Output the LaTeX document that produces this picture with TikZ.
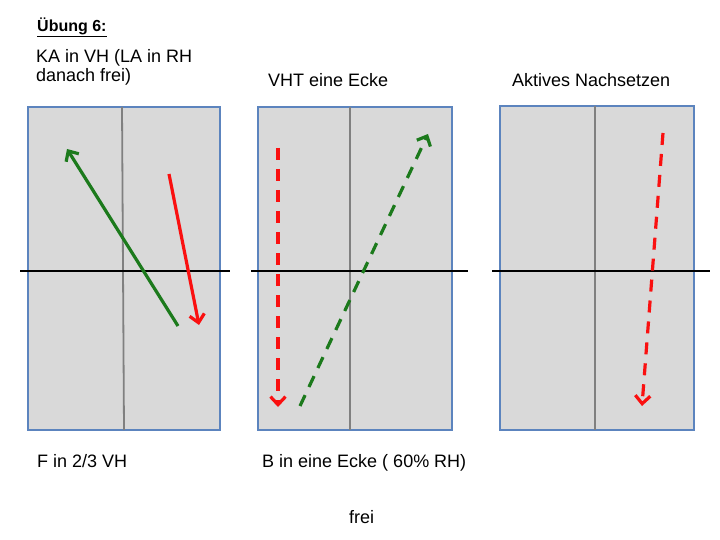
\documentclass[tikz,border=0pt]{standalone}
\usepackage{fontspec}
\setmainfont{Liberation Sans}
\usetikzlibrary{arrows.meta, positioning}

\definecolor{courtgray}{RGB}{217,217,217}
\definecolor{courtblue}{RGB}{92,132,190}
\definecolor{midgray}{RGB}{128,128,128}
\definecolor{rungreen}{RGB}{28,122,28}
\definecolor{runred}{RGB}{250,16,16}

\begin{document}
\begin{tikzpicture}[
        x=1pt, y=-1pt,
        court/.style={draw=courtblue, fill=courtgray, line width=1.6pt, minimum width=192pt, minimum height=323pt, inner sep=0pt},
        midline/.style={draw=midgray, line width=1.8pt},
        netline/.style={draw=black, line width=2pt},
        label/.style={anchor=base west, inner sep=0pt, font=\fontsize{18}{19.5}\selectfont, align=left}
    ]

    \tikzset{
    run/.style={-{Straight Barb[length=8pt, width=15pt]}, line width=3.2pt},
    dashrun/.style={run, dash pattern=on 12pt off 9pt}
}

    \useasboundingbox (0,0) rectangle (720,540);

    % courts
    \node[court] (C1) at (124,268.5) {};
    \node[court, minimum width=194pt] (C2) at (355,268.5) {};
    \node[court, minimum width=194pt, minimum height=324pt] (C3) at (597,268) {};

    \draw[midline] (122,107) -- (124,430);
    \draw[midline] (350,107) -- (350,430);
    \draw[midline] (595,106) -- (595,430);

    \draw[netline] (20,271) -- (230,271);
    \draw[netline] (251,271) -- (468,271);
    \draw[netline] (492,271) -- (710,271);

    % texts
    \node[label, font=\fontsize{16}{18}\selectfont\bfseries] (T) at (37,31.5) {\underline{Übung 6:}};
    \node[label] (L1) at (36,82) {KA in VH (LA in RH\\danach frei)};
    \node[label] (L2) at (268,87) {VHT eine Ecke};
    \node[label] (L3) at (512,87) {Aktives Nachsetzen};
    \node[label] (B1) at (37,467) {F in 2/3 VH};
    \node[label] (B2) at (262,467) {B in eine Ecke ( 60\% RH)};
    \node[label] (B3) at (349,523) {frei};

    % runs
    \coordinate (g1s) at (178,326);
    \coordinate (g1e) at (67,149);
    \coordinate (r1s) at (169,174);
    \coordinate (r1e) at (199,325);
    \coordinate (r2s) at (278,148);
    \coordinate (r2e) at (278,407);
    \coordinate (g2s) at (300,406);
    \coordinate (g2e) at (428,134);
    \coordinate (r3s) at (663,133);
    \coordinate (r3e) at (642,406);

    \draw[run, rungreen] (g1s) -- (g1e);
    \draw[run, runred] (r1s) -- (r1e);
    \draw[dashrun, runred] (r2s) -- (r2e);
    \draw[dashrun, rungreen] (g2s) -- (g2e);
    \draw[dashrun, runred] (r3s) -- (r3e);
    \end{tikzpicture}
\end{document}
